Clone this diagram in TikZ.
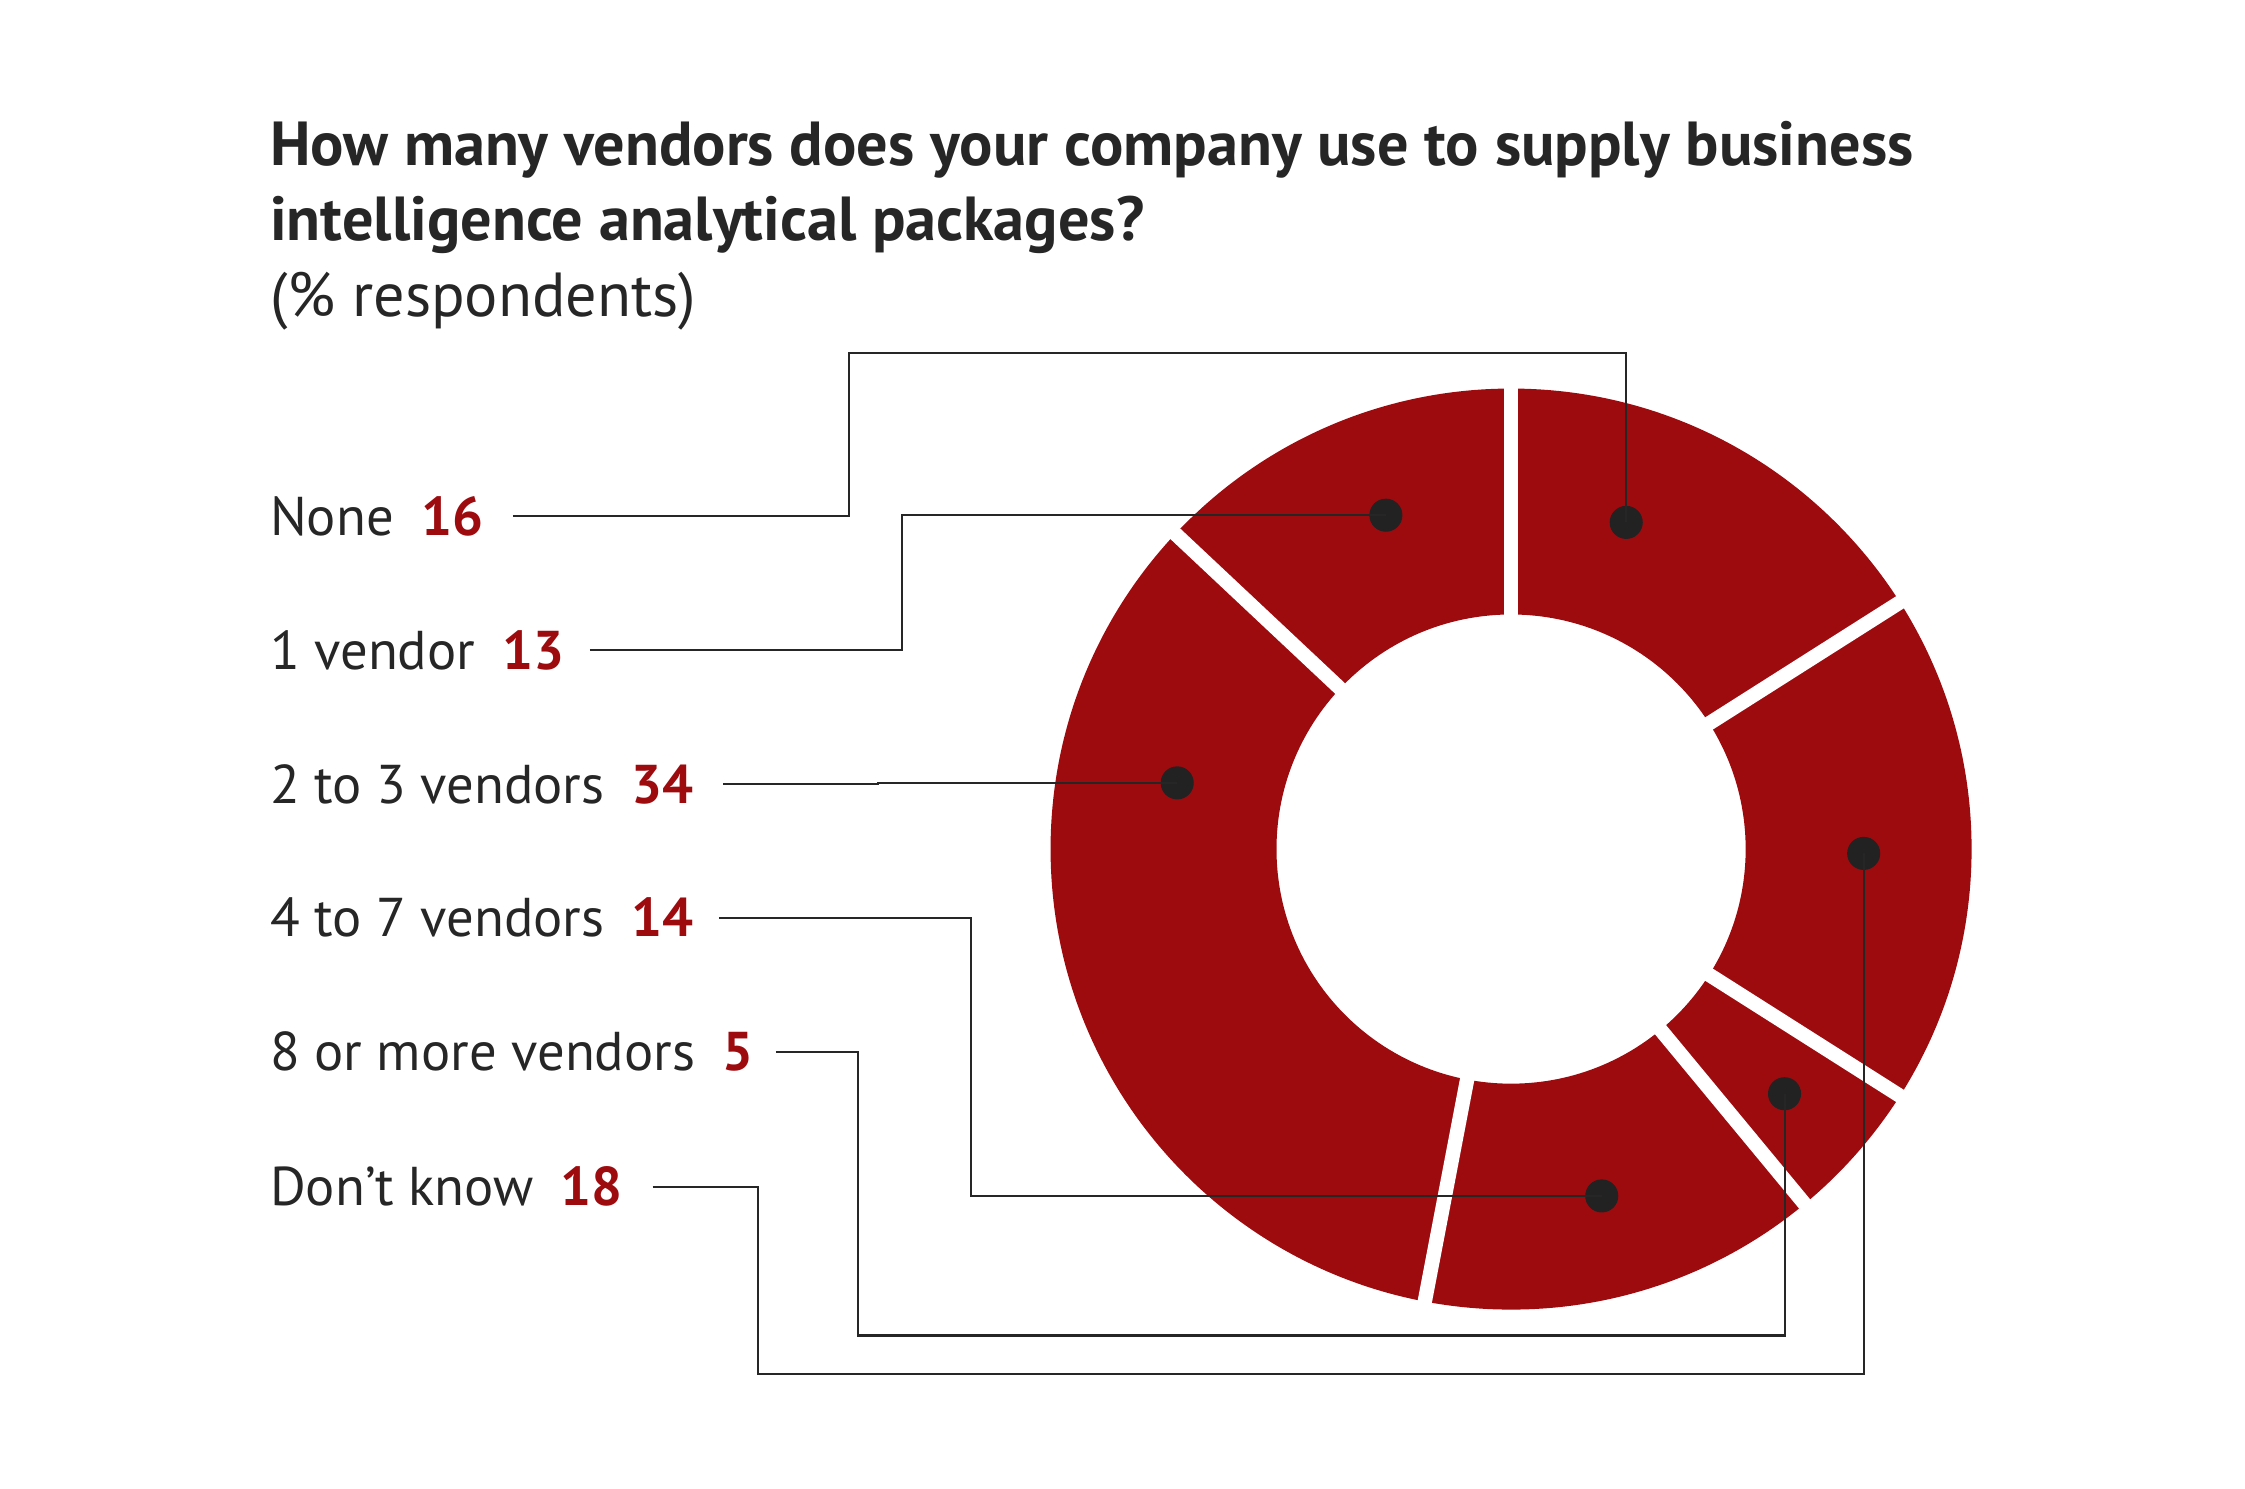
\documentclass[tikz,border=0pt]{standalone}
\usepackage{fontspec}
\setmainfont{PT Sans}
\definecolor{econred}{HTML}{9E0B0F}
\definecolor{dotgrey}{HTML}{222222}
\begin{document}
\begin{tikzpicture}[
        label/.style={anchor=base west, inner sep=0pt, font=\fontsize{10.8}{13}\selectfont, text=black!85},
        title/.style={anchor=base west, inner sep=0pt, font=\fontsize{12.3}{14.8}\selectfont, text=black!85},
        dot/.style={circle, fill=dotgrey, minimum size=0.23cm, inner sep=0pt},
        link/.style={thin, black!85}
    ]
        \useasboundingbox (0,0) rectangle (15.6,-10.34);
        % donut
        \def\ro{3.2}\def\ri{1.63}
        \fill[econred, even odd rule] (10.5,-5.9) circle (\ro) (10.5,-5.9) circle (\ri);
        \foreach \a in {90,32.4,-32.4,-50.4,-100.8,-223.2}
            \draw[white, line width=0.1cm] (10.5,-5.9) ++(\a:1.5) -- ++(\a:1.8);
        % title
        \node[title, font=\fontsize{12.3}{14.8}\selectfont\bfseries] (title1) at (1.87,-1.15) {How many vendors does your company use to supply business};
        \node[title, font=\fontsize{12.3}{14.8}\selectfont\bfseries] (title2) at (1.87,-1.67) {intelligence analytical packages?};
        \node[title] (unit) at (1.87,-2.2) {(\% respondents)};
        % labels
        \node[label] (none) at (1.87,-3.72) {None\enspace{\color{econred}\bfseries 16}};
        \node[label] (one) at (1.87,-4.65) {1 vendor\enspace{\color{econred}\bfseries 13}};
        \node[label] (two) at (1.87,-5.58) {2 to 3 vendors\enspace{\color{econred}\bfseries 34}};
        \node[label] (four) at (1.87,-6.51) {4 to 7 vendors\enspace{\color{econred}\bfseries 14}};
        \node[label] (eight) at (1.87,-7.44) {8 or more vendors\enspace{\color{econred}\bfseries 5}};
        \node[label] (dk) at (1.87,-8.38) {Don’t know\enspace{\color{econred}\bfseries 18}};
        % dots
        \node[dot] (dnone) at (11.30,-3.63) {};
        \node[dot] (done) at (9.63,-3.58) {};
        \node[dot] (dtwo) at (8.18,-5.44) {};
        \node[dot] (dfour) at (11.13,-8.31) {};
        \node[dot] (deight) at (12.40,-7.60) {};
        \node[dot] (ddk) at (12.95,-5.93) {};
        % connectors
        \draw[link] ([xshift=0.2cm]none.east) -| (5.9,-2.45) -| (dnone.center);
        \draw[link] ([xshift=0.17cm]one.east) -| (6.27,0 |- done) -- (done.center);
        \draw[link] ([xshift=0.2cm]two.east) -- (6.1,0 |- two.east) -- (6.1,0 |- dtwo) -- (dtwo.center);
        \draw[link] ([xshift=0.17cm]four.east) -| (6.75,0 |- dfour) -- (dfour.center);
        \draw[link] ([xshift=0.15cm]eight.east) -| (5.96,-9.28) -| (deight.center);
        \draw[link] ([xshift=0.2cm]dk.east) -| (5.27,-9.55) -| (ddk.center);
    \end{tikzpicture}
\end{document}
